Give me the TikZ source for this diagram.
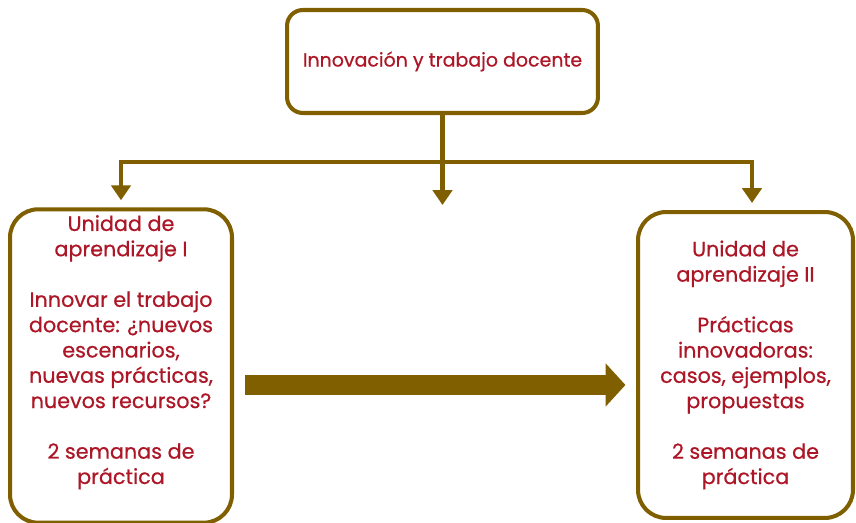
\documentclass[tikz,border=0pt]{standalone}
\usepackage{fontspec}
\setmainfont{Poppins}[FakeBold=0.6]
\usetikzlibrary{arrows.meta}

\definecolor{oro}{RGB}{127,95,0}
\definecolor{rojo}{RGB}{172,22,38}

\tikzset{
  caja/.style={draw=oro, line width=2.3pt, rounded corners=16pt, align=center, text=rojo, font=\fontsize{11.8}{14.4}\selectfont},
  enlace/.style={draw=oro, line width=2.3pt, -{Triangle[width=11pt,length=8.5pt]}},
  flecha/.style={draw=oro, line width=11.3pt, -{Triangle[width=24pt,length=11.3pt]}}
}

\begin{document}
\begin{tikzpicture}[x=0.02cm, y=-0.02cm]

\useasboundingbox (0,0) rectangle (856,523);

\node[caja, rounded corners=9pt, minimum width=6.22cm, minimum height=2.06cm, font=\fontsize{10.8}{12}\selectfont] (top) at (442.5,61.5) {Innovación y trabajo docente};

\node[caja, minimum width=4.44cm, minimum height=6.16cm] (uL) at (121,366) {Unidad de\\ aprendizaje I\\ \strut\\ Innovar el trabajo\\ docente: ¿nuevos\\ escenarios,\\ nuevas prácticas,\\ nuevos recursos?\\ \strut\\ 2 semanas de\\ práctica\\ \strut};

\node[caja, minimum width=4.3cm, minimum height=6.12cm] (uR) at (745.5,365) {Unidad de\\ aprendizaje II\\ \strut\\ Prácticas\\ innovadoras:\\ casos, ejemplos,\\ propuestas\\ \strut\\ 2 semanas de\\ práctica};

\coordinate (split) at (442.5,162);
\coordinate (mid) at (442.5,205);

\draw[oro, line width=2.3pt] (top.south) -- (split);
\draw[enlace] (split) -- (mid);
\draw[enlace, shorten >=4pt] (split) -| (uL.north);
\draw[enlace, shorten >=4pt] (split) -| ([xshift=3.7pt]uR.north);

\draw[flecha, shorten <=6.5pt, shorten >=6pt] ([yshift=-10.8pt]uL.east) -- ([yshift=-10.8pt]uL.east -| uR.west);

\end{tikzpicture}
\end{document}
